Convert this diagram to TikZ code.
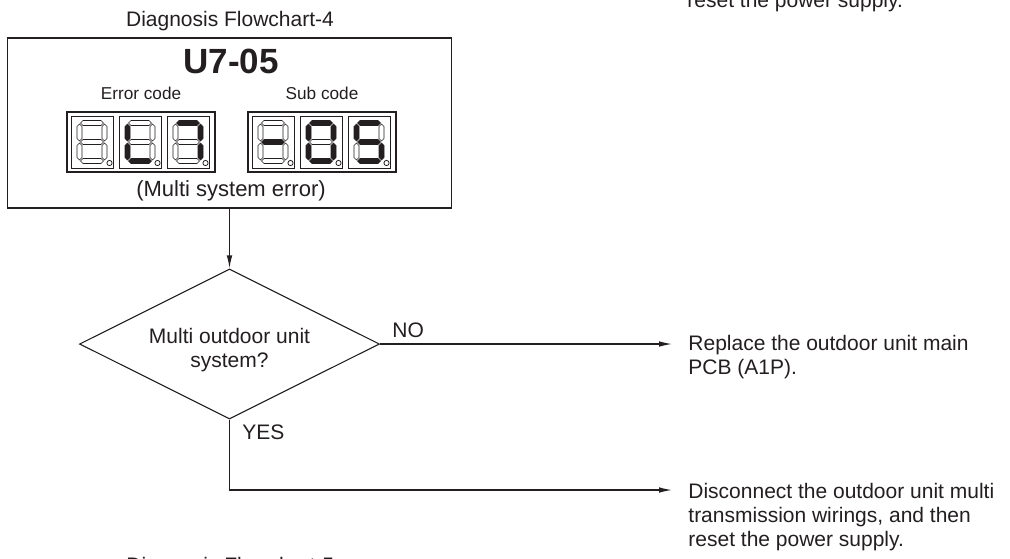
\documentclass[tikz,border=0pt]{standalone}
\usepackage{fontspec}
\setmainfont{Liberation Sans}
\definecolor{dgInk}{HTML}{231F20}
\usetikzlibrary{arrows.meta,positioning,shapes.geometric}

% one lamp of the display: #1,#2 = top left corner, #3..#9 = segments a..g (1 = lit)
\newcommand{\hseg}[4]{\path[seg#4] (#1,#3) -- ({#1+2.5},{#3-2.5}) -- ({#2-2.5},{#3-2.5}) -- (#2,#3) -- ({#2-2.5},{#3+2.5}) -- ({#1+2.5},{#3+2.5}) -- cycle;}
\newcommand{\vseg}[4]{\path[seg#4] (#1,#2) -- ({#1+2.5},{#2+2.5}) -- ({#1+2.5},{#3-2.5}) -- (#1,#3) -- ({#1-2.5},{#3-2.5}) -- ({#1-2.5},{#2+2.5}) -- cycle;}
\newcommand{\segcell}[9]{%
  \begin{scope}[shift={(#1,#2)}]
    \draw[cellbox] (0,0) rectangle (42,52);
    \hseg{9.5}{32.5}{7}{#3}
    \vseg{33.5}{8}{25}{#4}
    \vseg{33.5}{27}{44}{#5}
    \hseg{9.5}{32.5}{45}{#6}
    \vseg{8.5}{27}{44}{#7}
    \vseg{8.5}{8}{25}{#8}
    \hseg{9.5}{32.5}{26}{#9}
    \draw[cellbox] (38.5,47) circle[radius=1.3pt];
  \end{scope}}

\begin{document}
\begin{tikzpicture}[
  x=0.5pt,y=-0.5pt,
  font=\fontsize{10.5}{12}\selectfont,
  text=dgInk,
  lbl/.style={inner sep=0pt,text=dgInk},
  para/.style={lbl,align=left,anchor=north west},
  small/.style={lbl,font=\fontsize{8.6}{10}\selectfont},
  code/.style={lbl,font=\fontsize{17.5}{20}\selectfont\bfseries},
  panel/.style={draw=dgInk,line width=0.8pt,minimum width=222pt,minimum height=85pt,inner sep=0pt},
  decide/.style={diamond,draw=dgInk,line width=0.55pt,minimum width=150pt,minimum height=75pt,
    inner sep=0pt,aspect=2},
  dispbox/.style={draw=dgInk,line width=0.55pt},
  cellbox/.style={draw=dgInk,line width=0.4pt},
  seg0/.style={draw=dgInk,line width=0.3pt},
  seg1/.style={draw=dgInk,fill=dgInk,line width=0.3pt},
  flow/.style={draw=dgInk,line width=0.6pt,-{Latex[length=6.5pt,width=2.8pt]}}
]
\useasboundingbox (0,0) rectangle (1010,558);

% clipped lines of the neighbouring charts
\node[lbl,anchor=base west] (resettop) at (687,7) {reset the power supply.};
\node[lbl,anchor=base west] (nextchart) at (126,572) {Diagnosis Flowchart-5};

% error code panel
\node[lbl,anchor=base] (title) at (230,26) {Diagnosis Flowchart-4};
\node[panel] (panel) at (229.5,123) {};
\node[code,anchor=base] (code) at (231,73) {U7-05};
\node[small,anchor=base] (errlbl) at (141,99) {Error code};
\node[small,anchor=base] (sublbl) at (322,99) {Sub code};
\draw[dispbox] (67,112) rectangle (215,172);
\draw[dispbox] (248,112) rectangle (396,172);
\foreach \cx/\sa/\sb/\sc/\sd/\se/\sf/\sg in {
  71/0/0/0/0/0/0/0,
  119/0/0/0/1/1/1/0,
  167/1/1/1/0/0/0/0,
  252/0/0/0/0/0/0/1,
  300/1/1/1/1/1/1/0,
  348/1/0/1/1/0/1/1}
{
  \segcell{\cx}{116}{\sa}{\sb}{\sc}{\sd}{\se}{\sf}{\sg}
}
\node[lbl,font=\fontsize{11}{13}\selectfont,anchor=base] (multi) at (231,196) {(Multi system error)};

% decision
\node[decide] (ask) at (229.5,344) {};
\node[lbl,align=center] (asktext) at (229.5,350) {Multi outdoor unit\\system?};
\draw[flow] (panel.south) -- (ask.north);

\node[para] (fixpcb) at (688,335) {Replace the outdoor unit main\\PCB (A1P).};
\node[para] (fixwire) at (688,483) {Disconnect the outdoor unit multi\\transmission wirings, and then\\reset the power supply.};

\draw[flow,shorten >=8pt] (ask.east) -- (ask.east -| fixpcb.west);
\node[lbl,anchor=base west] (nolbl) at (392,337) {NO};

\coordinate (yesturn) at (229.5,490);
\draw[flow,shorten >=8pt] (ask.south) -- (yesturn) -- (yesturn -| fixwire.west);
\node[lbl,anchor=base west] (yeslbl) at (242,439) {YES};
\end{tikzpicture}
\end{document}
